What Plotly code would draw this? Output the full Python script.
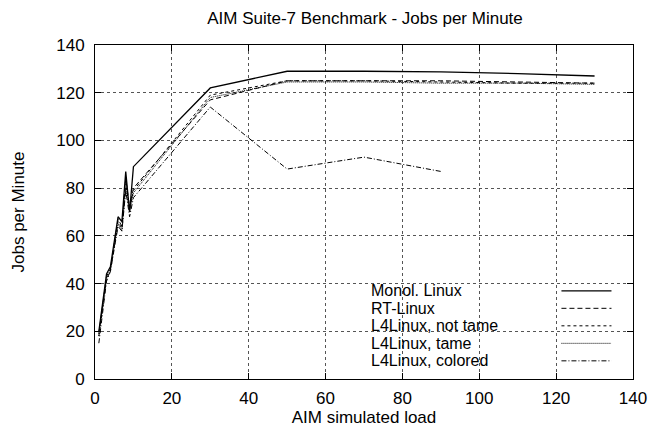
import plotly.graph_objects as go

# ---- data ----
load = [1, 2, 3, 4, 5, 6, 7, 8, 9, 10, 30, 50, 70, 90, 110, 130]
load_colored = [1, 2, 3, 4, 5, 6, 7, 8, 9, 10, 30, 50, 70, 90]

monol = [20, 32, 44, 47, 58, 68, 66, 87, 70, 89, 122, 129, 129, 128.7, 128, 127]
rt_linux = [19, 31, 43, 46, 57, 67, 64, 84, 72, 80, 117, 125, 125, 125, 124.5, 124]
l4_not_tame = [18, 30, 42, 45, 56, 66, 63, 82, 71, 79, 119, 125, 125, 124.5, 124, 124]
l4_tame = [18, 30, 42, 46, 56, 65, 62, 80, 70, 78, 118, 124.5, 124.5, 124, 124, 123.5]
l4_colored = [15, 29, 41, 45, 55, 64, 62, 79, 68, 76, 114, 88, 93, 87]

names = ["Monol. Linux", "RT-Linux", "L4Linux, not tame", "L4Linux, tame", "L4Linux, colored"]
x_ticks = [0, 20, 40, 60, 80, 100, 120, 140]
y_ticks = [0, 20, 40, 60, 80, 100, 120, 140]

# ---- styles ----
dashes = ["solid", "5px,3px", "3px,3px", "1px,1px", "5px,2px,1px,2px"]
widths = [1.3, 1, 1, 1, 1]
FONT = "Liberation Sans, Arial, sans-serif"
FS = 17
FS_LEG = 16

series = [(load, monol), (load, rt_linux), (load, l4_not_tame), (load, l4_tame),
          (load_colored, l4_colored)]

fig = go.Figure()
for (xs, ys), name, dash, w in zip(series, names, dashes, widths):
    fig.add_trace(go.Scatter(x=xs, y=ys, mode="lines", name=name,
                             line=dict(color="black", width=w, dash=dash),
                             showlegend=False))

# legend (gnuplot style: text, then line sample on the right), opaque box
fig.add_shape(type="rect", xref="paper", yref="paper",
              x0=0.489, x1=0.981, y0=0.03, y1=0.291,
              fillcolor="white", line=dict(width=0), layer="between")
row_top = 0.264
row_step = 0.0524
for i, (name, dash, w) in enumerate(zip(names, dashes, widths)):
    yy = row_top - i * row_step
    fig.add_annotation(x=0.511, y=yy, xref="paper", yref="paper", text=name,
                       showarrow=False, xanchor="left", yanchor="middle",
                       borderpad=0,
                       font=dict(family=FONT, size=FS_LEG, color="black"))
    fig.add_shape(type="line", xref="paper", yref="paper",
                  x0=0.867, x1=0.960, y0=yy, y1=yy,
                  line=dict(color="black", width=w, dash=dash))

axis_common = dict(
    showline=True, linecolor="black", linewidth=1, mirror="allticks",
    ticks="inside", ticklen=6, tickcolor="black", tickwidth=1,
    showgrid=True, gridcolor="#555", griddash="dot", gridwidth=1,
    zeroline=False, automargin=False,
    tickfont=dict(family=FONT, size=FS, color="black"),
)

fig.update_xaxes(range=[0, 140], tickvals=x_ticks, ticklabelstandoff=4,
                 title=dict(text="AIM simulated load", font=dict(family=FONT, size=FS, color="black"), standoff=3),
                 **axis_common)
fig.update_yaxes(range=[0, 140], tickvals=y_ticks, ticklabelstandoff=6,
                 title=dict(text="Jobs per Minute", font=dict(family=FONT, size=FS, color="black"), standoff=27),
                 **axis_common)

fig.update_layout(
    width=660, height=431,
    margin=dict(l=95, r=27, t=45, b=52),
    paper_bgcolor="white", plot_bgcolor="white",
    title=dict(text="AIM Suite-7 Benchmark - Jobs per Minute", x=0.553, xanchor="center",
               y=0.958, yanchor="middle",
               font=dict(family=FONT, size=FS, color="black")),
    font=dict(family=FONT, color="black"),
)

fig.write_html("out.html")
